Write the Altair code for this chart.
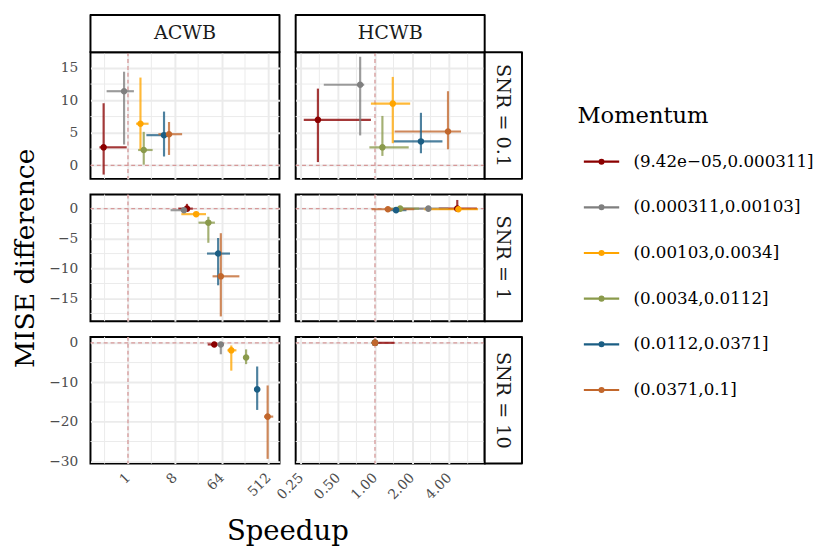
import altair as alt
import numpy as np
import pandas as pd

# ---------------- data ----------------
MOMENTUM = ["(9.42e\u221205,0.000311]", "(0.000311,0.00103]", "(0.00103,0.0034]",
            "(0.0034,0.0112]", "(0.0112,0.0371]", "(0.0371,0.1]"]
COLORS = ["#8b0000", "#7f7f7f", "#ffa500", "#8a9a4b", "#1b5e84", "#c2672c"]
METHODS = ["ACWB", "HCWB"]
SNR_LABELS = ["SNR = 0.1", "SNR = 1", "SNR = 10"]

method = (["ACWB"] * 6 + ["HCWB"] * 6) * 3
snr = ["SNR = 0.1"] * 12 + ["SNR = 1"] * 12 + ["SNR = 10"] * 12
momentum = MOMENTUM * 6

speedup = [0.339, 0.841, 1.741, 2.014, 4.96, 6.19,        # ACWB 0.1
           0.344, 0.758, 1.395, 1.149, 2.362, 3.918,      # HCWB 0.1
           13.74, 12.04, 20.68, 35.5, 54.9, 61.8,         # ACWB 1
           4.66, 2.713, 4.757, 1.602, 1.484, 1.274,       # HCWB 1
           46.2, 61.8, 98.4, 190.0, 310.8, 494.6,         # ACWB 10
           1.0, 1.0, 1.0, 1.0, 1.0, 1.0]                  # HCWB 10
speedup_lo = [0.281, 0.387, 1.434, 1.569, 2.266, 3.864,
              0.264, 0.384, 0.927, 0.901, 1.414, 1.444,
              9.32, 6.63, 10.70, 22.9, 33.4, 42.8,
              3.294, 1.444, 2.497, 1.32, 1.248, 0.939,
              34.5, 53.4, 82.7, 173.7, 272.5, 421.7,
              1.0, 1.0, 1.0, 1.0, 1.0, 1.0]
speedup_hi = [0.946, 1.301, 2.497, 2.99, 6.02, 11.08,
              0.927, 0.818, 1.932, 1.879, 3.531, 4.993,
              17.88, 15.45, 32.0, 47.5, 93.0, 141.0,
              6.73, 3.945, 6.87, 2.28, 1.803, 2.085,
              53.4, 69.5, 123.6, 206.5, 354.6, 634.7,
              1.44, 1.02, 1.02, 1.02, 1.02, 1.02]
mise = [2.77, 11.4, 6.4, 2.36, 4.64, 4.79,
        7.0, 12.4, 9.5, 2.77, 3.68, 5.2,
        0.0, -0.26, -0.92, -2.34, -7.5, -11.3,
        0.0, 0.0, -0.1, 0.0, -0.25, -0.1,
        -0.42, -0.42, -1.9, -3.72, -11.8, -18.7,
        0.0, 0.0, 0.0, 0.0, 0.0, 0.0]
mise_lo = [-1.42, 3.2, 2.36, 0.1, 1.36, 1.6,
           0.5, 4.6, 3.4, 1.45, 1.86, 2.47,
           -0.3, -0.5, -1.3, -5.7, -12.8, -18.0,
           -0.5, -0.2, -0.3, -0.2, -0.4, -0.3,
           -0.7, -2.9, -7.05, -5.4, -17.0, -29.4,
           -0.1, -0.1, -0.1, -0.1, -0.1, -0.1]
mise_hi = [9.55, 14.4, 13.5, 5.15, 8.27, 6.67,
           11.8, 16.7, 13.6, 7.6, 8.08, 11.4,
           0.8, 0.1, -0.6, -1.36, -4.9, -4.1,
           1.45, 0.2, 0.1, 0.2, -0.1, 0.1,
           -0.2, 0.0, -0.67, -1.66, -6.0, -10.8,
           0.1, 0.1, 0.1, 0.1, 0.1, 0.1]

# axis settings
XDOM = {"ACWB": [0.189, 837.0], "HCWB": [0.227, 7.78]}
XMAJ = {"ACWB": [1, 8, 64, 512], "HCWB": [0.25, 0.5, 1, 2, 4]}
XFMT = {"ACWB": "d", "HCWB": ".2f"}
YDOM = [[-2.08, 17.4], [-18.8, 2.35], [-30.6, 1.49]]
YMAJ = [[0, 5, 10, 15], [-15, -10, -5, 0], [-30, -20, -10, 0]]

df = pd.DataFrame(dict(method=method, snr=snr, momentum=momentum,
                       speedup=speedup, speedup_lo=speedup_lo, speedup_hi=speedup_hi,
                       mise=mise, mise_lo=mise_lo, mise_hi=mise_hi))

W, H = 192.5, 129
STRIP = 38
FONT = "DejaVu Serif"
REF = "#d69898"
GRID = "#ebebeb"


def minor_log(majors, dom):
    lg = np.log2(majors)
    step = lg[1] - lg[0]
    ext = np.concatenate([[lg[0] - step], lg, [lg[-1] + step]])
    mids = 2 ** ((ext[:-1] + ext[1:]) / 2)
    return [float(v) for v in mids if dom[0] < v < dom[1]]


def minor_lin(majors, dom):
    step = majors[1] - majors[0]
    ext = [majors[0] - step] + list(majors) + [majors[-1] + step]
    mids = [(a + b) / 2 for a, b in zip(ext[:-1], ext[1:])]
    return [float(v) for v in mids if dom[0] < v < dom[1]]


cscale = alt.Scale(domain=MOMENTUM, range=COLORS)
SYMBOL = ("M-1,0L1,0M0.11,0A0.11,0.11,0,1,1,-0.11,0"
          "A0.11,0.11,0,1,1,0.11,0Z")
legend = alt.Legend(title="Momentum", orient="none", legendX=496, legendY=54,
                    symbolType=SYMBOL, symbolSize=1296, symbolStrokeWidth=2.2,
                    symbolOpacity=1, symbolOffset=5, labelOffset=13,
                    rowPadding=18.5, titlePadding=15, padding=0)


def panel(ri, ci):
    m = METHODS[ci]
    s = SNR_LABELS[ri]
    last_row = ri == 2
    first_col = ci == 0

    xkw = dict(values=XMAJ[m], format=XFMT[m], labels=last_row, ticks=False,
               domain=False, grid=True, labelAngle=315, labelAlign="right",
               labelBaseline="middle", labelPadding=12)
    if last_row and first_col:
        xkw.update(title="Speedup", titleX=W + 8, titleY=77,
                   titleBaseline="alphabetic", titleAlign="center")
    else:
        xkw.update(title=None)
    xaxis = alt.Axis(**xkw)

    ykw = dict(values=YMAJ[ri], labels=first_col, ticks=False, domain=False,
               grid=True, labelPadding=13)
    if ri == 1 and first_col:
        ykw.update(title="MISE difference", titleX=-58, titleY=H / 2,
                   titleAngle=270, titleBaseline="alphabetic", titleAlign="center",
                   titleFontSize=27)
    else:
        ykw.update(title=None)
    yaxis = alt.Axis(**ykw)

    xs = alt.Scale(type="log", base=2, domain=XDOM[m], nice=False)
    ys = alt.Scale(domain=YDOM[ri], nice=False, zero=False)

    def X(f):
        return alt.X(f, type="quantitative", scale=xs, axis=xaxis)

    def Y(f):
        return alt.Y(f, type="quantitative", scale=ys, axis=yaxis)

    sub = df[(df.method == m) & (df.snr == s)]
    base = alt.Chart(sub)

    gx = alt.Chart(pd.DataFrame({"v": minor_log(XMAJ[m], XDOM[m])})).mark_rule(
        color=GRID, strokeWidth=1).encode(x=X("v"))
    gy = alt.Chart(pd.DataFrame({"v": minor_lin(YMAJ[ri], YDOM[ri])})).mark_rule(
        color=GRID, strokeWidth=1).encode(y=Y("v"))
    vref = alt.Chart(pd.DataFrame({"v": [1.0]})).mark_rule(
        color=REF, strokeDash=[4, 3], strokeWidth=1.3).encode(x=X("v"))
    href = alt.Chart(pd.DataFrame({"v": [0.0]})).mark_rule(
        color=REF, strokeDash=[4, 3], strokeWidth=1.3).encode(y=Y("v"))

    # one colour channel (stroke) everywhere, so the legend is a single one
    st = alt.Stroke("momentum:N", scale=cscale, legend=legend)
    hbar = base.mark_rule(strokeWidth=2.2, opacity=0.78).encode(
        x=X("speedup_lo"), x2="speedup_hi", y=Y("mise"), stroke=st)
    vbar = base.mark_rule(strokeWidth=2.2, opacity=0.78).encode(
        x=X("speedup"), y=Y("mise_lo"), y2="mise_hi", stroke=st)
    pts = base.mark_point(filled=False, size=12, opacity=1, strokeWidth=3.2).encode(
        x=X("speedup"), y=Y("mise"), stroke=st)

    layers = [gx, gy, vref, href, hbar, vbar, pts]

    if ri == 0:
        hd = alt.Chart(pd.DataFrame({"t": [m]}))
        layers.append(hd.mark_rect(fill="white", stroke="black", strokeWidth=2,
                                   strokeJoin="round").encode(
            x=alt.value(0), x2=alt.value(W), y=alt.value(-STRIP), y2=alt.value(0)))
        layers.append(hd.mark_text(font=FONT, fontSize=19.5, color="#1a1a1a",
                                   align="center", baseline="middle").encode(
            x=alt.value(W / 2), y=alt.value(-STRIP / 2), text="t:N"))
    if ci == 1:
        sd = alt.Chart(pd.DataFrame({"t": [s]}))
        layers.append(sd.mark_rect(fill="white", stroke="black", strokeWidth=2,
                                   strokeJoin="round").encode(
            x=alt.value(W), x2=alt.value(W + STRIP), y=alt.value(0), y2=alt.value(H)))
        layers.append(sd.mark_text(font=FONT, fontSize=19.5, color="#1a1a1a", angle=90,
                                   align="center", baseline="middle").encode(
            x=alt.value(W + STRIP / 2), y=alt.value(H / 2), text="t:N"))

    return alt.layer(*layers).properties(width=W, height=H)


panels = [panel(ri, ci) for ri in range(3) for ci in range(2)]

chart = alt.concat(*panels, columns=2, spacing={"row": 16, "column": 16},
                   bounds="flush").properties(
    padding={"left": 3, "top": 0, "right": 5, "bottom": 0}
).configure(font=FONT).configure_view(
    stroke="black", strokeWidth=2
).configure_axis(
    gridColor=GRID, gridWidth=2, labelColor="#4d4d4d", labelFontSize=14,
    labelFont=FONT, titleFont=FONT, titleFontSize=28, titleFontWeight="normal",
    titleColor="black"
).configure_legend(
    titleFont=FONT, titleFontSize=23, titleFontWeight="normal", titleColor="black",
    labelFont=FONT, labelFontSize=17, labelColor="black", labelLimit=400
)

chart.save("out.html", embed_options={"renderer": "svg", "actions": False})
